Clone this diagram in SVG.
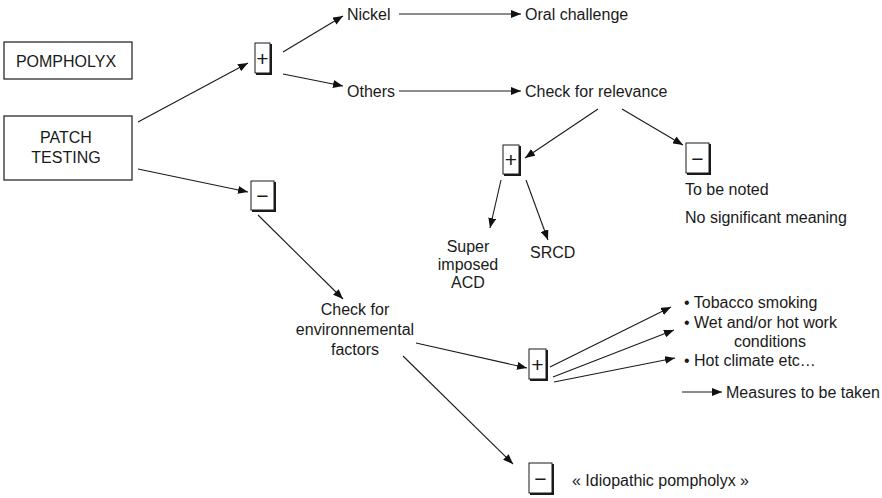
<svg xmlns="http://www.w3.org/2000/svg" width="882" height="498" viewBox="0 0 882 498">
  <defs>
    <marker id="arrow" markerUnits="userSpaceOnUse" markerWidth="10" markerHeight="8" refX="10" refY="4" orient="auto">
      <path d="M0,0 L10,4 L0,8 z" fill="#111"/>
    </marker>
    <style>
      text { font-family: "Liberation Sans", Arial, sans-serif; font-size: 16px; fill: #1a1a1a; }
      .mid { text-anchor: middle; }
      .box { fill: #fff; stroke: #1a1a1a; stroke-width: 1.2; }
      .sign { fill: #fff; stroke: #1a1a1a; stroke-width: 1; }
      .shadow { fill: none; stroke: #1a1a1a; stroke-width: 2; }
      .sym { font-size: 21px; text-anchor: middle; }
      .conn line { stroke: #1a1a1a; stroke-width: 1.1; marker-end: url(#arrow); }
    </style>
  </defs>
  <rect width="882" height="498" fill="#fff"/>

  <!-- start boxes -->
  <g id="pompholyx">
    <rect class="box" x="4" y="42" width="128" height="37"/>
    <text class="mid" x="66" y="67">POMPHOLYX</text>
  </g>
  <g id="patch-testing">
    <rect class="box" x="4" y="116" width="128" height="64"/>
    <text class="mid" x="66" y="143">PATCH</text>
    <text class="mid" x="66" y="163">TESTING</text>
  </g>

  <!-- result boxes (+ / −) with a drop edge -->
  <g id="pos1">
    <rect class="sign" x="255" y="43" width="15" height="30"/>
    <polyline class="shadow" points="271,44 271,74 256,74"/>
    <text class="sym" x="262.5" y="65.5">+</text>
  </g>
  <g id="neg1">
    <rect class="sign" x="251" y="181" width="23" height="29"/>
    <polyline class="shadow" points="275,182 275,211 252,211"/>
    <text class="sym" x="262.5" y="203">−</text>
  </g>
  <g id="pos2">
    <rect class="sign" x="503" y="145" width="16" height="29"/>
    <polyline class="shadow" points="520,146 520,175 504,175"/>
    <text class="sym" x="511" y="167">+</text>
  </g>
  <g id="neg2">
    <rect class="sign" x="686" y="143" width="23" height="30"/>
    <polyline class="shadow" points="710,144 710,174 687,174"/>
    <text class="sym" x="697.5" y="165.5">−</text>
  </g>
  <g id="pos3">
    <rect class="sign" x="529" y="349" width="17" height="30"/>
    <polyline class="shadow" points="547,350 547,380 530,380"/>
    <text class="sym" x="537.5" y="371.5">+</text>
  </g>
  <g id="neg3">
    <rect class="sign" x="529" y="463" width="23" height="30"/>
    <polyline class="shadow" points="553,464 553,494 530,494"/>
    <text class="sym" x="540.5" y="485.5">−</text>
  </g>

  <!-- labels -->
  <g id="nickel"><text x="347" y="20">Nickel</text></g>
  <g id="oral-challenge"><text x="525" y="20">Oral challenge</text></g>
  <g id="others"><text x="347" y="97">Others</text></g>
  <g id="check-relevance"><text x="525" y="97">Check for relevance</text></g>
  <g id="noted">
    <text x="685" y="195">To be noted</text>
    <text x="685" y="223">No significant meaning</text>
  </g>
  <g id="superimposed">
    <text class="mid" x="468" y="252">Super</text>
    <text class="mid" x="468" y="270">imposed</text>
    <text class="mid" x="468" y="288">ACD</text>
  </g>
  <g id="srcd"><text x="530" y="258">SRCD</text></g>
  <g id="check-env">
    <text class="mid" x="355" y="315">Check for</text>
    <text class="mid" x="355" y="335">environnemental</text>
    <text class="mid" x="355" y="355">factors</text>
  </g>
  <g id="factors-list">
    <text x="684" y="308">• Tobacco smoking</text>
    <text x="684" y="328">• Wet and/or hot work</text>
    <text class="mid" x="770" y="347">conditions</text>
    <text x="684" y="366">• Hot climate etc…</text>
  </g>
  <g id="measures"><text x="726" y="398">Measures to be taken</text></g>
  <g id="idiopathic"><text x="572" y="486">« Idiopathic pompholyx »</text></g>

  <!-- connectors -->
  <g id="connectors" class="conn">
    <line x1="138" y1="122" x2="248" y2="63"/>
    <line x1="138" y1="169" x2="248" y2="192"/>
    <line x1="283" y1="52" x2="343" y2="16"/>
    <line x1="283" y1="74" x2="343" y2="86"/>
    <line x1="399" y1="14" x2="521" y2="14"/>
    <line x1="399" y1="91" x2="521" y2="91"/>
    <line x1="598" y1="109" x2="525" y2="158"/>
    <line x1="622" y1="109" x2="683" y2="145"/>
    <line x1="501" y1="180" x2="490" y2="228"/>
    <line x1="526" y1="180" x2="548" y2="240"/>
    <line x1="258" y1="215" x2="343" y2="299"/>
    <line x1="416" y1="343" x2="527" y2="368"/>
    <line x1="403" y1="356" x2="513" y2="464"/>
    <line x1="550" y1="367" x2="671" y2="307"/>
    <line x1="553" y1="377" x2="674" y2="330"/>
    <line x1="554" y1="382" x2="675" y2="358"/>
    <line x1="682" y1="392" x2="722" y2="392"/>
  </g>
</svg>
